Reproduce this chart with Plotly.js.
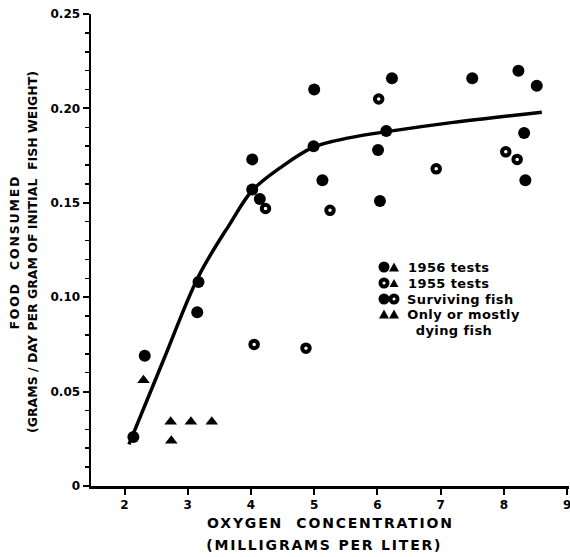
<!DOCTYPE html>
<html>
<head>
<meta charset="utf-8">
<script src="https://cdn.plot.ly/plotly-3.0.1.min.js"></script>
<style>
html,body{margin:0;padding:0;background:#fff;}
#chart{width:570px;height:557px;}
g.annotation[data-index="5"] text, g.annotation[data-index="6"] text{letter-spacing:1.8px;}
g.annotation[data-index="7"] text{letter-spacing:1.8px;}
g.annotation[data-index="0"] text, g.annotation[data-index="1"] text, g.annotation[data-index="2"] text, g.annotation[data-index="3"] text, g.annotation[data-index="4"] text{letter-spacing:0.4px;}
</style>
</head>
<body>
<div id="chart"></div>
<script>
// Surviving fish, 1956 tests (filled circles)
const filledX = [2.14, 2.32, 3.17, 3.15, 4.02, 4.02, 4.14, 5.00, 4.99, 5.13, 6.23, 6.14, 6.01, 6.04, 7.50, 8.23, 8.52, 8.32, 8.34];
const filledY = [0.026, 0.069, 0.108, 0.092, 0.173, 0.157, 0.152, 0.210, 0.180, 0.162, 0.216, 0.188, 0.178, 0.151, 0.216, 0.220, 0.212, 0.187, 0.162];
// Surviving fish, 1955 tests (open circles)
const openX = [4.05, 4.87, 4.23, 5.25, 6.02, 6.93, 8.03, 8.21];
const openY = [0.075, 0.073, 0.147, 0.146, 0.205, 0.168, 0.177, 0.173];
// Only or mostly dying fish (triangles)
const triX = [2.30, 2.73, 3.05, 3.38, 2.74];
const triY = [0.056, 0.034, 0.034, 0.034, 0.024];
// Fitted curve
const curveX = [2.07, 2.62, 3.17, 3.67, 4.02, 4.46, 4.99, 5.57, 6.15, 7.20, 8.60];
const curveY = [0.022, 0.067, 0.111, 0.139, 0.1565, 0.1685, 0.1795, 0.1845, 0.1877, 0.1926, 0.198];
const xTicks = [2, 3, 4, 5, 6, 7, 8, 9];
const yTicks = [0, 0.05, 0.10, 0.15, 0.20, 0.25];
const yTickText = ['0', '0.05', '0.10', '0.15', '0.20', '0.25'];
const legendLabels = ['1956 tests', '1955 tests', 'Surviving fish', 'Only or mostly', 'dying fish'];

const FONT = 'DejaVu Sans, sans-serif';

const traces = [
  {x: curveX, y: curveY, mode: 'lines', line: {color: '#000', width: 3.5, shape: 'spline', smoothing: 1}, hoverinfo: 'skip'},
  {x: filledX, y: filledY, mode: 'markers', marker: {symbol: 'circle', size: 12, color: '#000'}},
  {x: openX, y: openY, mode: 'markers', marker: {symbol: 'circle-open', size: 7.5, color: '#000', line: {width: 4, color: '#000'}}},
  {x: triX, y: triY, mode: 'markers', marker: {symbol: 'triangle-up', size: 11, color: '#000'}}
];

// legend (drawn as shapes + annotations in paper/pixel terms)
const W = 478, H = 472, L = 91, T = 14;
function px(xp){ return (xp - L) / W; }
function py(yp){ return 1 - (yp - T) / H; }
const shapes = [];
function circ(cx, cy, d, fill){
  shapes.push({type:'circle', xref:'paper', yref:'paper', xsizemode:'pixel', ysizemode:'pixel',
    xanchor:px(cx), yanchor:py(cy), x0:-d/2, x1:d/2, y0:-d/2, y1:d/2,
    fillcolor: fill ? '#000' : 'rgba(0,0,0,0)', line:{color:'#000', width: fill ? 0 : 4}});
}
function tri(cx, cy, s){
  const h = s*0.9;
  shapes.push({type:'path', xref:'paper', yref:'paper', xsizemode:'pixel', ysizemode:'pixel',
    xanchor:px(cx), yanchor:py(cy),
    path:`M ${-s/2} ${-h/2} L ${s/2} ${-h/2} L 0 ${h/2} Z`, fillcolor:'#000', line:{width:0}});
}
circ(384, 267, 11, true); tri(394, 267, 10);
circ(384, 283, 7, false); tri(394, 283, 9);
circ(384, 299, 11, true); circ(394, 299, 7, false);
tri(384, 314, 10); tri(394, 314, 10);

const annotations = [];
const rows = [267, 283, 299, 314, 330];
legendLabels.forEach((t, i) => {
  annotations.push({xref:'paper', yref:'paper', x: px(i === 4 ? 416 : 408), y: py(rows[i]), text: t,
    showarrow:false, xanchor:'left', yanchor:'middle', font:{family:FONT, size:13, color:'#000', weight:'bold'}});
});
annotations.push({xref:'paper', yref:'paper', x: px(330), y: py(523), text: 'OXYGEN  CONCENTRATION',
  showarrow:false, xanchor:'center', yanchor:'middle', font:{family:FONT, size:14, color:'#000', weight:'bold'}});
annotations.push({xref:'paper', yref:'paper', x: px(324), y: py(545), text: '(MILLIGRAMS PER LITER)',
  showarrow:false, xanchor:'center', yanchor:'middle', font:{family:FONT, size:14, color:'#000', weight:'bold'}});
annotations.push({xref:'paper', yref:'paper', x: px(14), y: py(252), text: 'FOOD  CONSUMED', textangle:-90,
  showarrow:false, xanchor:'center', yanchor:'middle', font:{family:FONT, size:12.5, color:'#000', weight:'bold'}});
annotations.push({xref:'paper', yref:'paper', x: px(32), y: py(252), text: '(GRAMS / DAY PER GRAM OF INITIAL  FISH WEIGHT)', textangle:-90,
  showarrow:false, xanchor:'center', yanchor:'middle', font:{family:FONT, size:12.5, color:'#000', weight:'bold'}});

const layout = {
  width: 570, height: 557,
  margin: {l: L, r: 1, t: T, b: 71},
  paper_bgcolor: '#fff', plot_bgcolor: '#fff',
  showlegend: false,
  xaxis: {range: [1.47, 9.03], tickmode: 'array', tickvals: xTicks, ticktext: xTicks.map(String),
    showgrid: false, zeroline: false, showline: true, linewidth: 2.5, linecolor: '#000',
    ticks: 'outside', ticklen: 6, tickwidth: 2, tickcolor: '#000', ticklabeloverflow: 'allow',
    tickfont: {family: FONT, size: 12, color: '#000', weight: 'bold'}},
  yaxis: {range: [0, 0.25], tickmode: 'array', tickvals: yTicks, ticktext: yTickText,
    showgrid: false, zeroline: false, showline: true, linewidth: 2.5, linecolor: '#000',
    ticks: 'outside', ticklen: 6, tickwidth: 2, tickcolor: '#000', ticklabeloverflow: 'allow',
    minor: {dtick: 0.01, ticks: 'outside', ticklen: 4, tickwidth: 1.5, tickcolor: '#000', showgrid: false},
    tickfont: {family: FONT, size: 12, color: '#000', weight: 'bold'}},
  shapes: shapes,
  annotations: annotations
};
Plotly.newPlot('chart', traces, layout, {staticPlot: true, displayModeBar: false});
</script>
</body>
</html>
